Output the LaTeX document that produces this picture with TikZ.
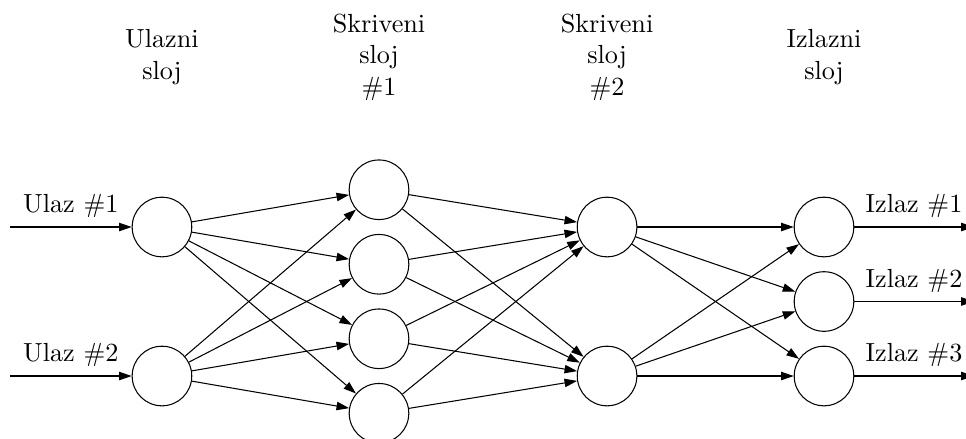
\documentclass[tikz,border=0pt]{standalone}
\usetikzlibrary{arrows.meta}

\tikzset{%
  every neuron/.style={
    circle,
    draw,
    inner sep=0pt,
    minimum size=0.8cm
  },
  layer label/.style={
    align=center
  },
}

\begin{document}
\begin{tikzpicture}[>={Triangle[length=4.8pt,width=3.2pt]}]

\useasboundingbox (0,-1.832) rectangle (12.966,4.047);

\foreach \y [count=\i] in {1,-1}
  \node [every neuron] (input-\i) at (2.174,\y) {};

\foreach \y [count=\i] in {1.5,0.5,-0.5,-1.5}
  \node [every neuron] (hiddenA-\i) at (5.087,\y) {};

\foreach \y [count=\i] in {1,-1}
  \node [every neuron] (hiddenB-\i) at (8.148,\y) {};

\foreach \y [count=\i] in {1,0,-1}
  \node [every neuron] (output-\i) at (11.06,\y) {};

% free ends of the outer arrows
\foreach \y [count=\i] in {1,-1}
  \coordinate (in-\i) at (0.134,\y);
\foreach \y [count=\i] in {1,0,-1}
  \coordinate (out-\i) at (13.07,\y);

\foreach \i in {1,2}
  \draw [->] (in-\i) -- (input-\i)
    node [above, midway] {Ulaz \#\i};

\foreach \i in {1,2,3}
  \draw [->] (output-\i) -- (out-\i)
    node [above, midway] {Izlaz \#\i};

\foreach \i in {1,2}
  \foreach \j in {1,...,4}
    \draw [->] (input-\i) -- (hiddenA-\j);

\foreach \i in {1,...,4}
  \foreach \j in {1,2}
    \draw [->] (hiddenA-\i) -- (hiddenB-\j);

\foreach \i in {1,2}
  \foreach \j in {1,2,3}
    \draw [->] (hiddenB-\i) -- (output-\j);

\foreach \x/\l [count=\k] in {2.174/{Ulazni\\sloj}, 5.087/{Skriveni\\sloj\\\#1},
    8.148/{Skriveni\\sloj\\\#2}, 11.06/{Izlazni\\sloj}}
  \node [layer label] (title-\k) at (\x,3.28) {\l};

\end{tikzpicture}
\end{document}
